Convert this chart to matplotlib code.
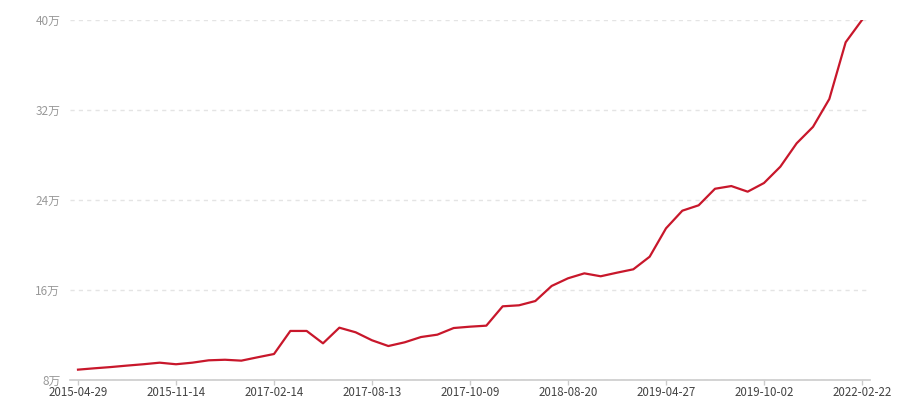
import matplotlib
matplotlib.use("Agg")
import matplotlib.pyplot as plt
from matplotlib.ticker import FuncFormatter

plt.rcParams['font.family'] = ['Noto Sans CJK SC', 'DejaVu Sans']

# tick labels shown on the x axis (every 6th observation)
tick_labels = ["2015-04-29", "2015-11-14", "2017-02-14", "2017-08-13", "2017-10-09",
               "2018-08-20", "2019-04-27", "2019-10-02", "2022-02-22"]
label_step = 6

# series values in 万
values = [8.92, 9.04, 9.15, 9.28, 9.40, 9.54, 9.40, 9.54, 9.75, 9.80,
          9.72, 10.02, 10.31, 12.36, 12.36, 11.26, 12.65, 12.24, 11.53, 11.02,
          11.35, 11.82, 12.03, 12.62, 12.74, 12.83, 14.55, 14.64, 15.02, 16.36,
          17.04, 17.48, 17.22, 17.54, 17.84, 18.96, 21.48, 23.05, 23.53, 25.00,
          25.24, 24.74, 25.51, 26.96, 29.04, 30.50, 32.98, 38.02, 40.00]

y_ticks = [8, 16, 24, 32, 40]

fig = plt.figure(figsize=(9, 4), dpi=100)
ax = fig.add_axes([70/900, 20/400, 800/900, 360/400])

x = list(range(len(values)))
ax.plot(x, values, color='#c8172b', linewidth=1.6, solid_joinstyle='round', zorder=3)

ax.set_xlim(-0.49, len(values) - 1 + 0.49)
ax.set_ylim(8, 40)

ax.set_xticks(list(range(0, len(values), label_step)))
ax.set_xticklabels(tick_labels)
ax.set_yticks(y_ticks)
ax.yaxis.set_major_formatter(FuncFormatter(lambda v, p: f"{int(v)}万"))

for s in ['top', 'right', 'left']:
    ax.spines[s].set_visible(False)
ax.spines['bottom'].set_color('#cccccc')
ax.spines['bottom'].set_linewidth(1.2)

ax.tick_params(axis='x', direction='out', length=3.5, width=1, color='#cccccc',
               labelsize=8.3, labelcolor='#444444', pad=1)
ax.tick_params(axis='y', length=0, labelsize=8.5, labelcolor='#999999', pad=7)

ax.grid(axis='y', color='#e4e4e4', linestyle=(0, (3, 3)), linewidth=1)
ax.set_axisbelow(True)

fig.savefig('out.png', dpi=100)
